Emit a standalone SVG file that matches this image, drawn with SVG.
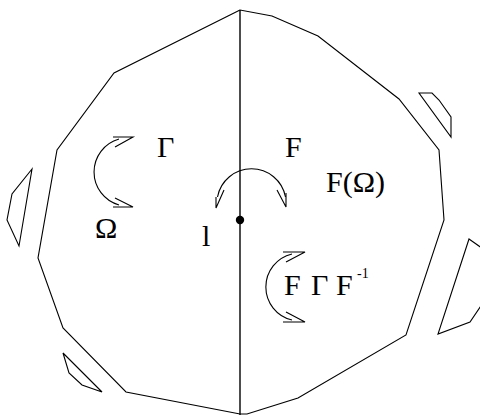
<svg xmlns="http://www.w3.org/2000/svg" width="480" height="415" viewBox="0 0 480 415">
<style>
.ln{fill:none;stroke:#000;stroke-width:1.1;stroke-linejoin:miter}
.t{font-family:"Liberation Serif","Times New Roman",serif;font-size:30px;fill:#000}
.s{font-family:"Liberation Serif","Times New Roman",serif;font-size:14px;fill:#000}
</style>
<rect width="480" height="415" fill="#fff"/>
<g id="domain">
<polygon class="ln" points="240,10 114,73 57,150 38,258 63,328 126,392 240,414 247,414 298,398 406,335 444,220 439,150 399,99 318,36 272,16"/>
</g>
<g id="islands">
<polygon class="ln" points="32,169 12,194 7,220 19,246"/>
<polygon class="ln" points="419,93 432,93 439,100 451,117 451,137"/>
<polygon class="ln" points="469,239 486,251 485,300 470,322 438,334"/>
<polygon class="ln" points="63,353 69,373 82,385 102,392"/>
</g>
<g id="connectors">
<line x1="240" y1="10" x2="240" y2="415" stroke="#000" stroke-width="1.4"/>
<path class="ln" d="M119,139 A34.3,34.3 0 0 0 119,205"/>
<polyline class="ln" points="113,137 133,137 115,147"/>
<polyline class="ln" points="113,207 133,207 115,198"/>
<path class="ln" d="M217.5,197 A34.6,34.6 0 0 1 285.5,197"/>
<polyline class="ln" points="216,197 216,208 224,190"/>
<polyline class="ln" points="277,190 286,207 286,193"/>
<path class="ln" d="M292,254 A33.9,33.9 0 0 0 292,320"/>
<polyline class="ln" points="283,252 305,252 286,262"/>
<polyline class="ln" points="283,322 305,322 286,312"/>
</g>
<g id="point">
<circle cx="240" cy="220" r="4.2" fill="#000"/>
</g>
<g id="labels">
<text class="t" x="157" y="157">Γ</text>
<text class="t" x="285" y="157">F</text>
<text class="t" x="326" y="192">F(Ω)</text>
<text class="t" x="95" y="238">Ω</text>
<text class="t" x="202" y="246">l</text>
<text class="t" x="284" y="295">F</text>
<text class="t" x="311" y="295">Γ</text>
<text class="t" x="336" y="295">F</text>
<text class="s" x="357" y="278">-1</text>
</g>
</svg>
